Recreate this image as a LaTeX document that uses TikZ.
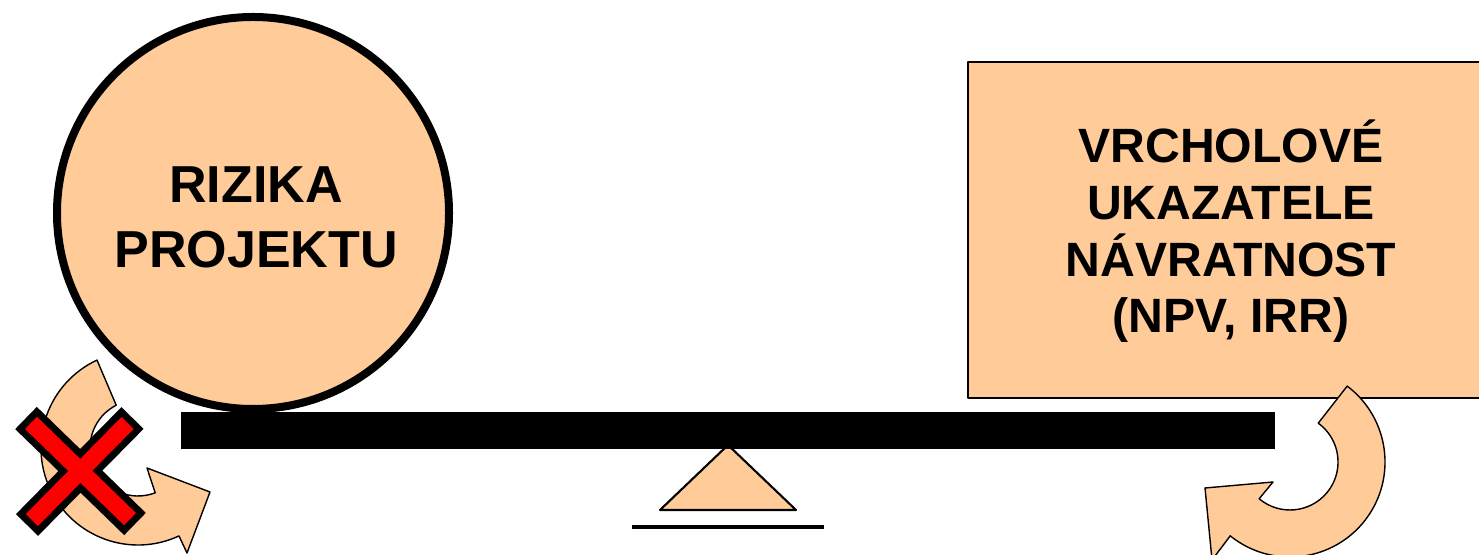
\documentclass[tikz,border=0pt]{standalone}
\usepackage{fontspec}
\setmainfont{Liberation Sans}
\usetikzlibrary{calc}
\definecolor{peach}{RGB}{255,204,153}
\tikzset{
  peachfill/.style={fill=peach, draw=black, line width=0.4pt},
  bigtext/.style={align=center, anchor=base},
}

\begin{document}
\begin{tikzpicture}[line join=round]
\useasboundingbox (0,0) rectangle (14.79,5.55);
\draw[peachfill, line width=0.6pt] (9.68,1.57) rectangle (14.90,4.93);
\node[bigtext, font=\bfseries\fontsize{13.7}{16.2}\selectfont] (ukazatele) at (12.31,2.22) {VRCHOLOVÉ\\UKAZATELE\\NÁVRATNOST\\(NPV, IRR)};
\coordinate (lc) at (1.38,1.07);
\coordinate (rc) at (12.90,0.93);
\draw[peachfill] ([shift={(115:0.97)}]lc) arc[start angle=115, end angle=295, radius=0.97] -- (1.87,0.02) -- (2.10,0.63) -- (1.47,0.87) -- ([shift={(291:0.48)}]lc) arc[start angle=291, end angle=117, radius=0.48] -- cycle;
\draw[peachfill] ([shift={(53:0.95)}]rc) arc[start angle=53, end angle=-129, radius=0.95] -- (12.12,-0.05) -- (12.05,0.67) -- (12.73,0.73) -- ([shift={(-130:0.48)}]rc) arc[start angle=-130, end angle=54, radius=0.48] -- cycle;
\draw[line width=0.31cm] (0.26,1.37) -- (1.35,0.31);
\draw[line width=0.31cm] (1.325,1.37) -- (0.27,0.30);
\draw[red, line width=0.17cm, shorten <=0.07cm, shorten >=0.07cm] (0.26,1.37) -- (1.35,0.31);
\draw[red, line width=0.17cm, shorten <=0.07cm, shorten >=0.07cm] (1.325,1.37) -- (0.27,0.30);
\draw[fill=peach, line width=0.08cm] (2.53,3.42) circle[radius=1.96];
\node[bigtext, font=\bfseries\fontsize{14.8}{18.5}\selectfont] (rizika) at (2.56,2.87) {RIZIKA\\PROJEKTU};
\draw[peachfill, line width=0.6pt] (7.28,1.10) -- (6.60,0.45) -- (7.96,0.45) -- cycle;
\fill (1.81,1.06) rectangle (12.75,1.43);
\draw[line width=0.04cm] (6.32,0.28) -- (8.24,0.28);
\end{tikzpicture}
\end{document}
